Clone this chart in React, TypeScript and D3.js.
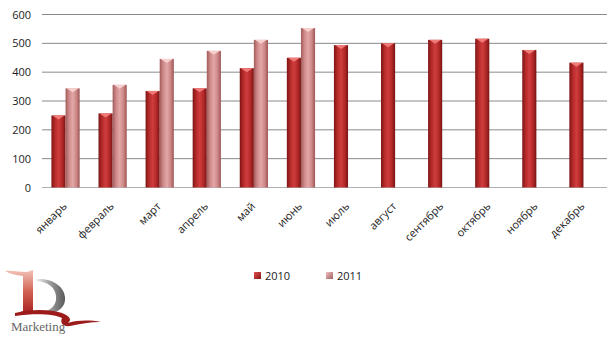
import React from "react";
import * as d3 from "d3";

const months = ["январь", "февраль", "март", "апрель", "май", "июнь", "июль", "август", "сентябрь", "октябрь", "ноябрь", "декабрь"];
const values2010 = [250, 257, 335, 344, 414, 450, 494, 500, 512, 516, 477, 433];
const values2011: (number | null)[] = [344, 356, 446, 474, 512, 553, null, null, null, null, null, null];
const yTicks = [0, 100, 200, 300, 400, 500, 600];
const seriesNames = ["2010", "2011"];

const W = 612, H = 339;
const left = 42, right = 607, top = 14.5, bottom = 187.5;

export default function App() {
  const x = d3.scaleBand<string>().domain(months).range([left, right]);
  const y = d3.scaleLinear().domain([0, 600]).range([bottom, top]);
  const bw = x.bandwidth() * 0.3;
  const font = "'Open Sans', 'Liberation Sans', sans-serif";

  const bar = (v: number, xs: number, s: number, key: string) => {
    const yt = y(v);
    const h = bottom - yt;
    const hl = s === 0 ? "#ef7a78" : "#f6cfcf";
    return (
      <g key={key}>
        <rect x={xs} y={yt} width={bw} height={h} fill={`url(#g${s})`} />
        <path d={`M${xs + 1},${yt} L${xs + bw - 1},${yt} L${xs + bw / 2},${yt + 4} Z`} fill={hl} />
      </g>
    );
  };

  return (
    <svg width={W} height={H} style={{ position: "absolute", left: 0, top: 0, background: "#fff" }}>
      <defs>
        <linearGradient id="g0" x1="0" x2="1" y1="0" y2="0">
          <stop offset="0" stopColor="#7e1515" />
          <stop offset="0.25" stopColor="#b52a2a" />
          <stop offset="0.5" stopColor="#cf3d3d" />
          <stop offset="0.75" stopColor="#b52a2a" />
          <stop offset="1" stopColor="#7a1414" />
        </linearGradient>
        <linearGradient id="g1" x1="0" x2="1" y1="0" y2="0">
          <stop offset="0" stopColor="#a35a5a" />
          <stop offset="0.25" stopColor="#cf8a8a" />
          <stop offset="0.5" stopColor="#e3a7a7" />
          <stop offset="0.75" stopColor="#cf8a8a" />
          <stop offset="1" stopColor="#9e5656" />
        </linearGradient>
        <linearGradient id="lg0" x1="0" x2="1" y1="0" y2="1">
          <stop offset="0" stopColor="#e05050" />
          <stop offset="1" stopColor="#8a1616" />
        </linearGradient>
        <linearGradient id="lg1" x1="0" x2="1" y1="0" y2="1">
          <stop offset="0" stopColor="#f0c0c0" />
          <stop offset="1" stopColor="#a06060" />
        </linearGradient>
        <linearGradient id="dgrad" x1="0" x2="1" y1="0" y2="0">
          <stop offset="0" stopColor="#f2f2f2" />
          <stop offset="0.5" stopColor="#9a9a9a" />
          <stop offset="1" stopColor="#5a5a5a" />
        </linearGradient>
        <linearGradient id="onegrad" x1="0" x2="0" y1="0" y2="1">
          <stop offset="0" stopColor="#f3c2b8" />
          <stop offset="0.5" stopColor="#d06050" />
          <stop offset="1" stopColor="#a82020" />
        </linearGradient>
      </defs>

      {yTicks.map((t) => (
        <g key={t}>
          <line x1={left} x2={right} y1={y(t)} y2={y(t)} stroke={t === 0 ? "#b0b0b0" : "#8a8a8a"} strokeWidth={1} />
          <text x={31} y={y(t) + 4} textAnchor="end" fontSize={11} fontFamily={font} fill="#222">{t}</text>
        </g>
      ))}

      {months.map((m, i) => {
        const c = (x(m) as number) + x.bandwidth() / 2;
        return (
          <g key={m}>
            {bar(values2010[i], c - bw, 0, "a" + i)}
            {values2011[i] != null && bar(values2011[i] as number, c, 1, "b" + i)}
            <text transform={`translate(${c + 2},${207}) rotate(-45)`} textAnchor="end" fontSize={11} fontFamily={font} fill="#222">{m}</text>
          </g>
        );
      })}

      {seriesNames.map((n, i) => {
        const lx = i === 0 ? 254 : 326;
        return (
          <g key={n}>
            <rect x={lx} y={272} width={7} height={7} fill={`url(#lg${i})`} />
            <text x={lx + 11} y={280} fontSize={11} fontFamily={font} fill="#222">{n}</text>
          </g>
        );
      })}

      <g>
        <path d="M5,271 C12,270 20,272 27,272 L33,270 L33,311 L38,313 L16,314 L23,311 L23,276 C16,275 10,274 5,271 Z" fill="url(#onegrad)" />
        <path d="M36,279 C52,278 64,286 65,297 C66,307 58,314 44,314 L42,312 C53,310 57,303 56,296 C55,287 48,282 36,281 Z" fill="url(#dgrad)" />
        <path d="M15,313 C30,309 50,309 62,313 C70,316 72,320 68,323 C78,320 90,320 101,322 C90,322 80,324 70,326 C62,327 60,322 62,318 C55,314 35,313 15,316 Z" fill="#9c1c1c" />
        <text x={11} y={331} fontSize={13} fontFamily="'Liberation Serif', serif" fill="#666">Marketing</text>
      </g>
    </svg>
  );
}
